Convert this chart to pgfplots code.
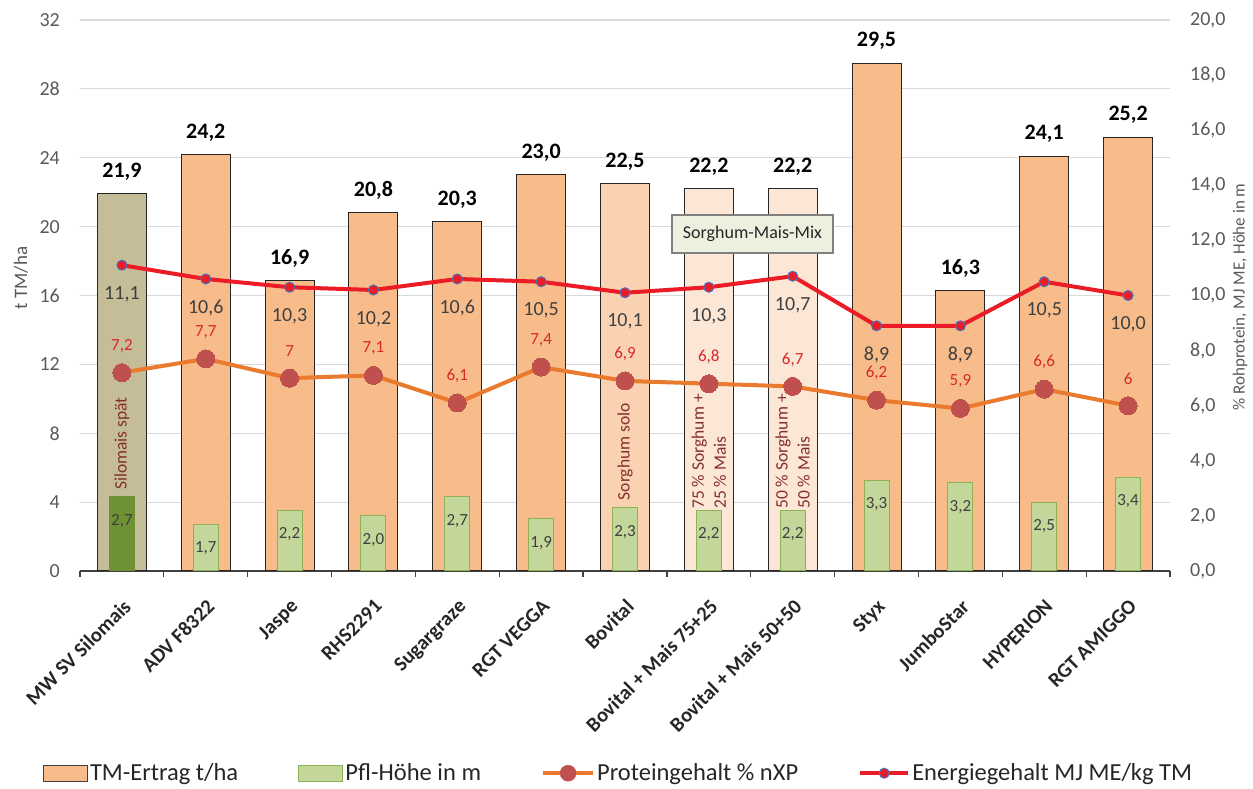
\documentclass[border=0pt]{standalone}
\usepackage{pgfplots}
\pgfplotsset{compat=1.18}
\usepackage{fontspec}
\setmainfont{Carlito}
\definecolor{cOr}{HTML}{F7BC8A}
\definecolor{cTan}{HTML}{C4BD97}
\definecolor{cBov}{HTML}{FAD2B2}
\definecolor{cMix}{HTML}{FCE6D6}
\definecolor{cGr}{HTML}{C4D79B}
\definecolor{cGrB}{HTML}{8DB255}
\definecolor{cDkGr}{HTML}{6E9134}
\definecolor{cRed}{HTML}{EC1C26}
\definecolor{cBlue}{HTML}{4472C4}
\definecolor{cOrL}{HTML}{EA7A2E}
\definecolor{cMk}{HTML}{C0504D}
\definecolor{cPlab}{HTML}{D8282C}
\definecolor{cAnn}{HTML}{85302E}
\definecolor{cBox}{HTML}{EBF1DE}
\definecolor{gridc}{HTML}{D9D9D9}
\definecolor{axc}{HTML}{404040}
\definecolor{tickc}{HTML}{595959}
\definecolor{labc}{HTML}{404040}
\pgfplotsset{/pgf/number format/assume math mode=true}
\begin{document}
\begin{tikzpicture}[x=1pt,y=1pt]
\begin{axis}[
  at={(0pt,0pt)}, anchor=south west,
  width=1090pt, height=551pt, scale only axis,
  xmin=-0.5, xmax=12.5, ymin=0, ymax=32,
  ytick={0,4,...,32},
  ymajorgrids, grid style={color=gridc, line width=1.2pt},
  axis x line*=bottom, axis y line*=left,
  y axis line style={draw=none},
  x axis line style={draw=axc, line width=1.3pt},
  major tick length=0pt, minor tick length=6pt, tick align=outside,
  major y tick style={draw=none},
  major x tick style={draw=none},
  xtick={0,...,12},
  minor xtick={-0.5,0.5,...,12.5},
  minor x tick style={draw=axc, line width=1.3pt},
  xticklabels={MW SV Silomais, ADV F8322, Jaspe, RHS2291, Sugargraze, RGT VEGGA, Bovital, Bovital + Mais 75+25, Bovital + Mais 50+50, Styx, JumboStar, HYPERION, RGT AMIGGO},
  xticklabel style={rotate=45, anchor=north east, inner sep=0pt, yshift=-19pt, xshift=-19pt, font=\fontsize{20.5}{22}\selectfont\bfseries, text=black!85},
  yticklabel style={anchor=east, inner sep=0pt, xshift=-20pt, font=\fontsize{20}{22}\selectfont, text=tickc},
  bar shift=0pt,
  nodes near coords={\pgfmathprintnumber[fixed,fixed zerofill,precision=1,use comma]{\pgfplotspointmeta}},
  every node near coord/.append style={anchor=center, yshift=22pt, font=\fontsize{22}{24}\selectfont\bfseries, text=black},
]
\addplot[ybar, bar width=49pt, fill=cTan, draw=black!85, line width=1pt] coordinates {(0,21.9)};
\addplot[ybar, bar width=49pt, fill=cOr, draw=black!85, line width=1pt] coordinates {(1,24.2)(2,16.9)(3,20.8)(4,20.3)(5,23.0)(9,29.5)(10,16.3)(11,24.1)(12,25.2)};
\addplot[ybar, bar width=49pt, fill=cBov, draw=black!85, line width=1pt] coordinates {(6,22.5)};
\addplot[ybar, bar width=49pt, fill=cMix, draw=black!85, line width=1pt] coordinates {(7,22.2)(8,22.2)};
\node[rotate=90, anchor=west, inner sep=0pt, text=cAnn, font=\fontsize{17.5}{22}\selectfont] at (axis cs:0,4.7) {Silomais spät};
\node[rotate=90, anchor=west, inner sep=0pt, text=cAnn, font=\fontsize{17.5}{22}\selectfont] at (axis cs:6,4.1) {Sorghum solo};
\node[rotate=90, anchor=west, inner sep=0pt, align=left, text=cAnn, font=\fontsize{17.5}{22}\selectfont] at (axis cs:7,3.6) {75 \% Sorghum +\\25 \% Mais};
\node[rotate=90, anchor=west, inner sep=0pt, align=left, text=cAnn, font=\fontsize{17.5}{22}\selectfont] at (axis cs:8,3.6) {50 \% Sorghum +\\50 \% Mais};
\end{axis}
\begin{axis}[
  at={(0pt,0pt)}, anchor=south west,
  width=1090pt, height=551pt, scale only axis,
  xmin=-0.5, xmax=12.5, ymin=0, ymax=20,
  axis x line=none, axis y line*=right,
  y axis line style={draw=none},
  major tick length=0pt,
  major y tick style={draw=none},
  ytick={0,2,...,20},
  yticklabel={\pgfmathprintnumber[fixed,fixed zerofill,precision=1,use comma]{\tick}},
  yticklabel style={anchor=west, inner sep=0pt, xshift=20pt, font=\fontsize{20}{22}\selectfont, text=tickc},
  bar shift=0pt,
  legend columns=4,
  legend style={at={(0.494,-0.367)}, anchor=center, draw=none, fill=none, font=\fontsize{24.5}{26}\selectfont, text=black!85, inner sep=0pt, /tikz/every even column/.append style={column sep=58pt}},
  legend cell align=left,
]
\addlegendimage{legend image code/.code={\draw[fill=cOr,draw=black!75,line width=1.2pt] (0pt,-8pt) rectangle (44pt,8pt);}}
\addlegendentry{TM-Ertrag t/ha}
\addlegendimage{legend image code/.code={\draw[fill=cGr,draw=cGrB,line width=1.2pt] (0pt,-8pt) rectangle (44pt,8pt);}}
\addlegendentry{Pfl-Höhe in m}
\addlegendimage{legend image code/.code={\draw[cOrL,line width=4pt] (0pt,0pt) -- (50pt,0pt); \fill[cMk] (25pt,0pt) circle (8pt);}}
\addlegendentry{Proteingehalt \% nXP}
\addlegendimage{legend image code/.code={\draw[cRed,line width=4pt] (0pt,0pt) -- (48pt,0pt); \draw[fill=cRed,draw=cBlue,line width=1pt] (24pt,0pt) circle (5pt);}}
\addlegendentry{Energiegehalt MJ ME/kg TM}
\addplot[forget plot, ybar, bar width=25pt, fill=cDkGr, draw=cDkGr, line width=1pt,
  nodes near coords={\pgfmathprintnumber[fixed,fixed zerofill,precision=1,use comma]{\pgfplotspointmeta}},
  every node near coord/.append style={anchor=center, yshift=-24pt, font=\fontsize{17}{19}\selectfont, text=labc}] coordinates {(0,2.7)};
\addplot[forget plot, ybar, bar width=25pt, fill=cGr, draw=cGrB, line width=1pt,
  nodes near coords={\pgfmathprintnumber[fixed,fixed zerofill,precision=1,use comma]{\pgfplotspointmeta}},
  every node near coord/.append style={anchor=center, yshift=-24pt, font=\fontsize{17}{19}\selectfont, text=labc}] coordinates {(1,1.7)(2,2.2)(3,2.0)(4,2.7)(5,1.9)(6,2.3)(7,2.2)(8,2.2)(9,3.3)(10,3.2)(11,2.5)(12,3.4)};
\addplot[forget plot, cOrL, line width=4pt, mark=*, mark size=9pt, mark options={fill=cMk, draw=cMk, line width=0pt},
  nodes near coords={\pgfmathprintnumber[fixed,precision=1,use comma]{\pgfplotspointmeta}},
  every node near coord/.append style={anchor=center, yshift=27pt, font=\fontsize{17}{19}\selectfont, text=cPlab}] coordinates {(0,7.2)(1,7.7)(2,7.0)(3,7.1)(4,6.1)(5,7.4)(6,6.9)(7,6.8)(8,6.7)(9,6.2)(10,5.9)(11,6.6)(12,6.0)};
\addplot[forget plot, cRed, line width=4pt, mark=*, mark size=5pt, mark options={fill=cRed, draw=cBlue, line width=1pt},
  nodes near coords={\pgfmathprintnumber[fixed,fixed zerofill,precision=1,use comma]{\pgfplotspointmeta}},
  every node near coord/.append style={anchor=center, yshift=-29pt, font=\fontsize{20}{22}\selectfont, text=labc}] coordinates {(0,11.1)(1,10.6)(2,10.3)(3,10.2)(4,10.6)(5,10.5)(6,10.1)(7,10.3)(8,10.7)(9,8.9)(10,8.9)(11,10.5)(12,10.0)};
\node[draw=black!50, line width=1.2pt, fill=cBox, minimum width=161pt, minimum height=38pt, inner sep=0pt, font=\fontsize{18}{20}\selectfont, text=black!85] at (axis cs:7.52,12.23) {Sorghum-Mais-Mix};
\end{axis}
\node[rotate=90, font=\fontsize{19}{21}\selectfont, text=tickc] at (-59pt,293pt) {t TM/ha};
\node[rotate=90, font=\fontsize{17}{19}\selectfont, text=tickc] at (1160pt,274pt) {\% Rohprotein, MJ ME, Höhe in m};
\pgfresetboundingbox
\path[use as bounding box] (-80pt,-218pt) rectangle (1173pt,571pt);
\end{tikzpicture}
\end{document}
